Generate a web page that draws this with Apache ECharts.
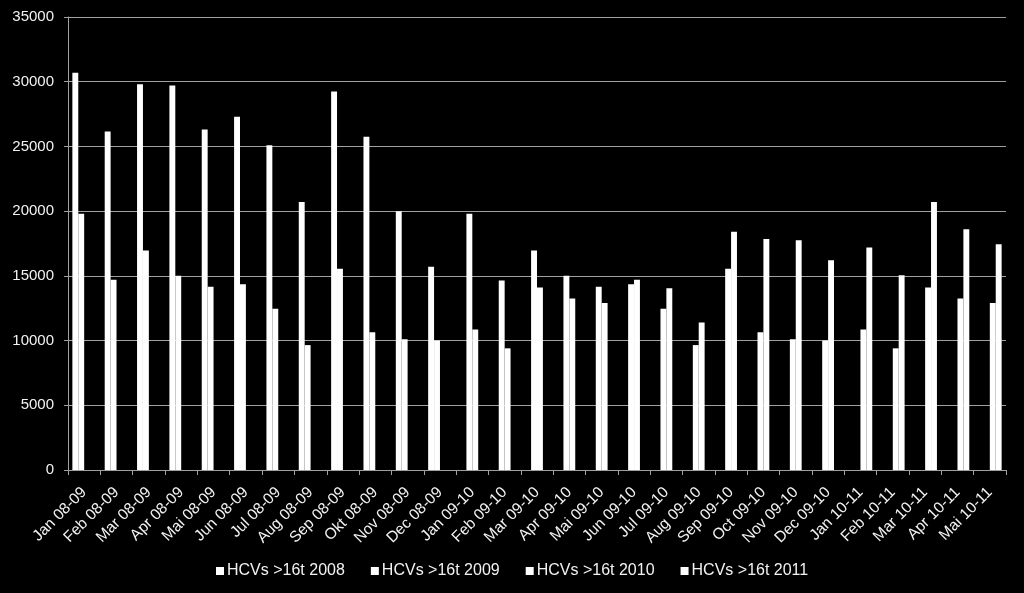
<!DOCTYPE html>
<html>
<head>
<meta charset="utf-8">
<script src="https://cdn.jsdelivr.net/npm/echarts@6/dist/echarts.min.js"></script>
<style>
html,body{margin:0;padding:0;background:#000;}
#c{width:1024px;height:593px;}
</style>
</head>
<body>
<div id="c"></div>
<script>
const categories = ['Jan 08-09','Feb 08-09','Mar 08-09','Apr 08-09','Mai 08-09','Jun 08-09','Jul 08-09','Aug 08-09','Sep 08-09','Okt 08-09','Nov 08-09','Dec 08-09',
  'Jan 09-10','Feb 09-10','Mar 09-10','Apr 09-10','Mai 09-10','Jun 09-10','Jul 09-10','Aug 09-10','Sep 09-10','Oct 09-10','Nov 09-10','Dec 09-10',
  'Jan 10-11','Feb 10-11','Mar 10-11','Apr 10-11','Mai 10-11'];
const seriesNames = ['HCVs >16t 2008','HCVs >16t 2009','HCVs >16t 2010','HCVs >16t 2011'];
const hcv2008 = [30700,26150,29800,29700,26300,27300,25100,20700,29250,25750,20000,15700,
  null,null,null,null,null,null,null,null,null,null,null,null,
  null,null,null,null,null];
const hcv2009 = [19800,14700,16950,15000,14150,14350,12450,9650,15550,10650,10100,10000,
  19800,14650,16950,15000,14150,14350,12450,9650,15550,10650,10100,10000,
  null,null,null,null,null];
const hcv2010 = [null,null,null,null,null,null,null,null,null,null,null,null,
  10850,9400,14100,13250,12900,14700,14050,11400,18400,17850,17750,16200,
  10850,9400,14100,13250,12900];
const hcv2011 = [null,null,null,null,null,null,null,null,null,null,null,null,
  null,null,null,null,null,null,null,null,null,null,null,null,
  17200,15050,20700,18600,17450];
const yTicks = {min:0, max:35000, interval:5000};

const font = '"Liberation Sans", Arial, sans-serif';
const chart = echarts.init(document.getElementById('c'));
const data = [hcv2008, hcv2009, hcv2010, hcv2011];
chart.setOption({
  backgroundColor:'#000',
  animation:false,
  grid:{left:68, right:18, top:17, bottom:123, containLabel:false},
  legend:{
    bottom:9, left:211,
    itemWidth:8, itemHeight:8, itemGap:26,
    icon:'rect',
    textStyle:{color:'#f2f2f2', fontSize:16, fontFamily:font, padding:[0,0,0,-2]},
    data:seriesNames
  },
  xAxis:{
    type:'category', data:categories,
    axisLine:{lineStyle:{color:'#a0a0a0', width:1}},
    axisTick:{show:true, length:5, lineStyle:{color:'#a0a0a0'}},
    axisLabel:{color:'#f2f2f2', fontSize:15.5, fontFamily:font, rotate:45, interval:0, margin:20}
  },
  yAxis:{
    type:'value', min:yTicks.min, max:yTicks.max, interval:yTicks.interval,
    axisLine:{show:true, lineStyle:{color:'#a0a0a0', width:1}},
    axisTick:{show:true, length:4, lineStyle:{color:'#a0a0a0'}},
    splitLine:{lineStyle:{color:'#a0a0a0', width:1}},
    axisLabel:{color:'#f2f2f2', fontSize:15, fontFamily:font, margin:14, formatter:v=>String(v)}
  },
  series: seriesNames.map((n,i)=>({
    name:n, type:'bar', data:data[i],
    barGap:'0%', barCategoryGap:'27%',
    itemStyle:{color:'#ffffff'}
  }))
});
</script>
</body>
</html>
